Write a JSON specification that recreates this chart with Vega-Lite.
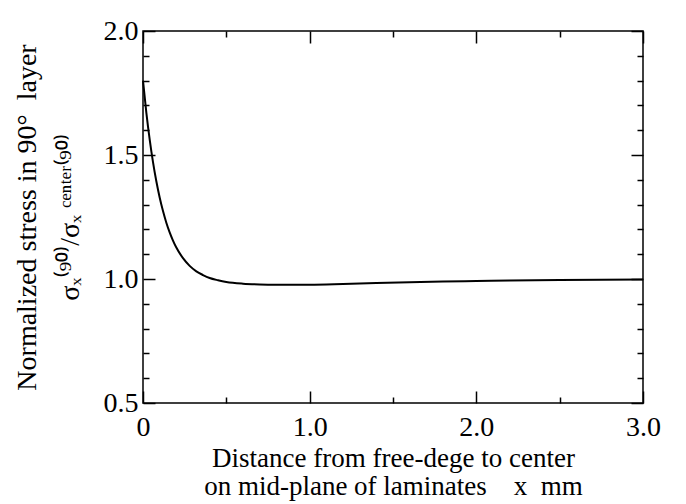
{
  "$schema": "https://vega.github.io/schema/vega-lite/v6.json",
  "autosize": {"type": "none"},
  "width": 500,
  "height": 372,
  "padding": {"left": 143, "top": 31, "right": 43, "bottom": 101},
  "background": "white",
  "config": {
    "font": "Liberation Serif",
    "view": {"stroke": "black", "strokeWidth": 1.5},
    "axis": {"grid": false, "domain": false, "tickColor": "black", "labelColor": "black", "titleColor": "black", "labelFont": "Liberation Serif", "titleFont": "Liberation Serif", "titleFontWeight": "normal", "tickWidth": 1.5}
  },
  "data": {"values": [
    {"x": 0.0, "y": 1.800},
    {"x": 0.02, "y": 1.671},
    {"x": 0.04, "y": 1.563},
    {"x": 0.06, "y": 1.471},
    {"x": 0.08, "y": 1.394},
    {"x": 0.10, "y": 1.329},
    {"x": 0.12, "y": 1.274},
    {"x": 0.14, "y": 1.227},
    {"x": 0.16, "y": 1.188},
    {"x": 0.18, "y": 1.155},
    {"x": 0.20, "y": 1.127},
    {"x": 0.24, "y": 1.084},
    {"x": 0.28, "y": 1.053},
    {"x": 0.32, "y": 1.031},
    {"x": 0.36, "y": 1.016},
    {"x": 0.40, "y": 1.004},
    {"x": 0.45, "y": 0.995},
    {"x": 0.50, "y": 0.988},
    {"x": 0.60, "y": 0.981},
    {"x": 0.70, "y": 0.978},
    {"x": 0.80, "y": 0.977},
    {"x": 0.90, "y": 0.977},
    {"x": 1.00, "y": 0.977},
    {"x": 1.20, "y": 0.980},
    {"x": 1.40, "y": 0.984},
    {"x": 1.60, "y": 0.987},
    {"x": 1.80, "y": 0.990},
    {"x": 2.00, "y": 0.992},
    {"x": 2.20, "y": 0.994},
    {"x": 2.50, "y": 0.996},
    {"x": 3.00, "y": 0.998}
  ]},
  "resolve": {"axis": {"x": "independent", "y": "independent"}},
  "layer": [
    {
      "mark": {"type": "line", "color": "black", "strokeWidth": 2, "interpolate": "monotone"},
      "encoding": {
        "x": {"field": "x", "type": "quantitative", "scale": {"domain": [0, 3], "nice": false},
          "axis": {"orient": "bottom", "values": [0, 1, 2, 3], "labelExpr": "datum.value == 0 ? '0' : format(datum.value, '.1f')", "tickSize": -12, "labelPadding": 22, "labelFont": "Liberation Serif", "labelFontSize": 28, "labelFlush": false,
            "title": ["Distance from free-dege to center", "on mid-plane of laminates \u00a0\u00a0 x \u00a0mm"], "titleFont": "Liberation Serif", "titleFontSize": 27, "titlePadding": 4, "titleLineHeight": 28}},
        "y": {"field": "y", "type": "quantitative", "scale": {"domain": [0.5, 2.0], "nice": false, "zero": false},
          "axis": {"orient": "left", "values": [0.5, 1.0, 1.5, 2.0], "format": ".1f", "tickSize": -12, "labelPadding": 17, "labelFont": "Liberation Serif", "labelFontSize": 28, "labelFlush": false,
            "title": ["Normalized stress in 90° \u00a0layer", "σₓ⁽⁹⁰⁾/σₓ ᶜᵉⁿᵗᵉʳ⁽⁹⁰⁾"], "titleFont": "Liberation Serif", "titleFontSize": 28, "titlePadding": 19, "titleLineHeight": 43}}
      }
    },
    {
      "mark": {"type": "line", "strokeOpacity": 0},
      "encoding": {
        "x": {"field": "x", "type": "quantitative", "scale": {"domain": [0, 3], "nice": false},
          "axis": {"orient": "bottom", "values": [0.5, 1.5, 2.5], "labels": false, "tickSize": -6, "title": null}},
        "y": {"field": "y", "type": "quantitative", "scale": {"domain": [0.5, 2.0], "nice": false, "zero": false},
          "axis": {"orient": "left", "values": [0.6, 0.7, 0.8, 0.9, 1.1, 1.2, 1.3, 1.4, 1.6, 1.7, 1.8, 1.9], "labels": false, "tickSize": -6, "title": null}}
      }
    },
    {
      "mark": {"type": "line", "strokeOpacity": 0},
      "encoding": {
        "x": {"field": "x", "type": "quantitative", "scale": {"domain": [0, 3], "nice": false},
          "axis": {"orient": "top", "values": [0, 1, 2, 3], "labels": false, "tickSize": -12, "title": null}},
        "y": {"field": "y", "type": "quantitative", "scale": {"domain": [0.5, 2.0], "nice": false, "zero": false},
          "axis": {"orient": "right", "values": [0.5, 1.0, 1.5, 2.0], "labels": false, "tickSize": -12, "title": null}}
      }
    },
    {
      "mark": {"type": "line", "strokeOpacity": 0},
      "encoding": {
        "x": {"field": "x", "type": "quantitative", "scale": {"domain": [0, 3], "nice": false},
          "axis": {"orient": "top", "values": [0.5, 1.5, 2.5], "labels": false, "tickSize": -6, "title": null}},
        "y": {"field": "y", "type": "quantitative", "scale": {"domain": [0.5, 2.0], "nice": false, "zero": false},
          "axis": {"orient": "right", "values": [0.6, 0.7, 0.8, 0.9, 1.1, 1.2, 1.3, 1.4, 1.6, 1.7, 1.8, 1.9], "labels": false, "tickSize": -6, "title": null}}
      }
    }
  ]
}
